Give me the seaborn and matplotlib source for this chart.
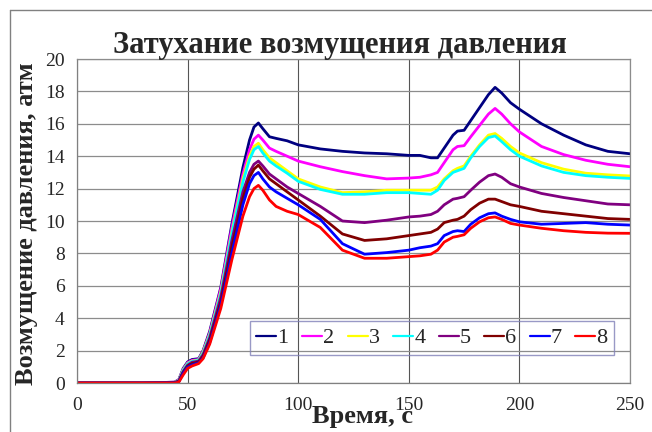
import numpy as np
import pandas as pd
import seaborn as sns
import matplotlib
matplotlib.use("Agg")
import matplotlib.pyplot as plt
from matplotlib.lines import Line2D

time = [0, 30, 44, 46, 48, 50, 52, 55, 57, 60, 65, 70, 75, 78, 80, 82, 84, 87, 90, 95, 100,
        110, 120, 130, 140, 150, 155, 160, 163, 166, 170, 172, 175, 178, 182, 186, 189, 192,
        196, 200, 210, 220, 230, 240, 250]

s1 = [0, 0, 0.05, 0.2, 0.9, 1.3, 1.45, 1.5, 2.0, 3.2, 5.9, 9.8, 13.3, 15.0, 15.8, 16.05, 15.7, 15.2, 15.1, 14.95, 14.7,
      14.45, 14.3, 14.2, 14.15, 14.05, 14.05, 13.9, 13.9, 14.5, 15.3, 15.55, 15.6, 16.2, 17.0, 17.8, 18.25, 17.9,
      17.3, 16.9, 16.0, 15.3, 14.7, 14.3, 14.15]
s2 = [0, 0, 0.05, 0.18, 0.85, 1.25, 1.4, 1.45, 1.95, 3.1, 5.8, 9.6, 12.9, 14.4, 15.05, 15.3, 15.0, 14.5, 14.3, 14.0, 13.7,
      13.35, 13.05, 12.8, 12.6, 12.65, 12.7, 12.85, 13.0, 13.6, 14.4, 14.6, 14.65, 15.2, 15.9, 16.6, 16.95, 16.6,
      16.0, 15.5, 14.6, 14.1, 13.75, 13.5, 13.35]
s3 = [0, 0, 0.04, 0.15, 0.8, 1.2, 1.35, 1.42, 1.9, 3.0, 5.6, 9.3, 12.6, 14.0, 14.6, 14.8, 14.4, 13.9, 13.6, 13.1, 12.6,
      12.1, 11.75, 11.8, 11.9, 11.9, 11.9, 11.9, 12.1, 12.6, 13.1, 13.25, 13.4, 14.0, 14.7, 15.3, 15.4, 15.1,
      14.6, 14.2, 13.6, 13.2, 12.95, 12.85, 12.78]
s4 = [0, 0, 0.04, 0.14, 0.78, 1.18, 1.33, 1.4, 1.85, 2.95, 5.5, 9.2, 12.4, 13.8, 14.4, 14.6, 14.2, 13.7, 13.4, 12.95, 12.45,
      11.95, 11.65, 11.65, 11.75, 11.75, 11.7, 11.65, 11.9, 12.5, 13.0, 13.1, 13.25, 13.9, 14.6, 15.15, 15.25, 14.9,
      14.4, 14.0, 13.4, 13.0, 12.8, 12.7, 12.63]
s5 = [0, 0, 0.03, 0.12, 0.7, 1.1, 1.28, 1.35, 1.75, 2.8, 5.3, 8.8, 11.8, 13.0, 13.5, 13.7, 13.4, 12.9, 12.6, 12.1, 11.7,
      10.9, 10.0, 9.9, 10.05, 10.25, 10.3, 10.4, 10.6, 11.0, 11.35, 11.4, 11.5, 11.9, 12.4, 12.8, 12.9, 12.7,
      12.3, 12.1, 11.7, 11.45, 11.25, 11.05, 11.0]
s6 = [0, 0, 0.02, 0.1, 0.65, 1.05, 1.2, 1.3, 1.65, 2.65, 5.0, 8.4, 11.4, 12.7, 13.2, 13.45, 13.1, 12.6, 12.3, 11.8, 11.3,
      10.3, 9.2, 8.8, 8.9, 9.1, 9.2, 9.3, 9.5, 9.9, 10.05, 10.1, 10.3, 10.7, 11.1, 11.35, 11.35, 11.2,
      11.0, 10.9, 10.6, 10.45, 10.3, 10.15, 10.1]
s7 = [0, 0, 0.01, 0.07, 0.6, 0.98, 1.12, 1.25, 1.55, 2.5, 4.8, 8.0, 11.0, 12.3, 12.8, 13.0, 12.6, 12.1, 11.8, 11.4, 11.0,
      10.1, 8.6, 7.95, 8.05, 8.2, 8.35, 8.45, 8.6, 9.1, 9.35, 9.4, 9.35, 9.8, 10.2, 10.45, 10.5, 10.3,
      10.1, 9.95, 9.8, 9.85, 9.9, 9.8, 9.75]
s8 = [0, 0, 0.0, 0.05, 0.5, 0.9, 1.05, 1.2, 1.5, 2.4, 4.6, 7.6, 10.3, 11.5, 12.0, 12.2, 11.9, 11.3, 10.9, 10.6, 10.4,
      9.6, 8.2, 7.7, 7.7, 7.8, 7.85, 7.95, 8.2, 8.7, 9.0, 9.05, 9.15, 9.55, 9.95, 10.2, 10.25, 10.1,
      9.85, 9.75, 9.55, 9.4, 9.3, 9.25, 9.24]

series_names = ["1", "2", "3", "4", "5", "6", "7", "8"]
series_values = [s1, s2, s3, s4, s5, s6, s7, s8]
colors = ["#000080", "#FF00FF", "#FFFF00", "#00FFFF", "#800080", "#800000", "#0000FF", "#FF0000"]

title = "Затухание возмущения давления"
xlabel = "Время, с"
ylabel = "Возмущение давления, атм"
xticks = [0, 50, 100, 150, 200, 250]
yticks = [0, 2, 4, 6, 8, 10, 12, 14, 16, 18, 20]

df = pd.concat([pd.DataFrame({"t": time, "v": vals, "s": name})
                for name, vals in zip(series_names, series_values)], ignore_index=True)

sns.set_style("white")
plt.rcParams["font.family"] = ["Liberation Serif", "DejaVu Serif"]

fig = plt.figure(figsize=(6.52, 4.32), dpi=100)
ax = fig.add_axes([77 / 652, 49 / 432, 553 / 652, 324 / 432])

sns.lineplot(data=df, x="t", y="v", hue="s", palette=colors, hue_order=series_names,
             linewidth=2.0, ax=ax, legend=False, estimator=None, sort=False)

ax.set_xlim(0, 250)
ax.set_ylim(0, 20)
ax.set_xticks(xticks)
ax.set_yticks(yticks)
ax.set_xticklabels([str(x) for x in xticks], fontsize=14)
ax.set_yticklabels([str(y) for y in yticks], fontsize=14)
ax.grid(axis="y", color="#8c8c8c", linewidth=0.9)
ax.grid(axis="x", color="#555555", linewidth=0.8)
ax.set_axisbelow(True)
for side in ["top", "right"]:
    ax.spines[side].set_color("#8c8c8c")
    ax.spines[side].set_linewidth(0.9)
for side in ["left", "bottom"]:
    ax.spines[side].set_color("#808080")
    ax.spines[side].set_linewidth(0.9)
ax.tick_params(axis="both", direction="out", length=4, color="#808080")
ax.tick_params(axis="y", pad=5)
ax.tick_params(axis="x", pad=6)

ax.set_xlabel("")
ax.set_ylabel("")
fig.text(362 / 652, 1 - 416 / 432, xlabel, ha="center", va="center", fontsize=19, fontweight="bold")
fig.text(27 / 652, 1 - 224 / 432, ylabel, ha="center", va="center", rotation=90, fontsize=19, fontweight="bold")
fig.text(340 / 652, 1 - 45 / 432, title, ha="center", va="center", fontsize=22, fontweight="bold")

handles = [Line2D([0], [0], color=c, linewidth=1.6) for c in colors]
leg = ax.legend(handles, series_names, loc="center", bbox_to_anchor=(432 / 652, 1 - 338 / 432),
                bbox_transform=fig.transFigure, ncol=8, frameon=True, fancybox=False,
                handlelength=0.9, handletextpad=0.05, columnspacing=0.6, fontsize=16,
                borderpad=0.3, borderaxespad=0)
leg.get_frame().set_facecolor("none")
leg.get_frame().set_edgecolor("#8080b8")
leg.get_frame().set_linewidth(1.0)

fig.add_artist(Line2D([10 / 652, 1.0], [1 - 10 / 432, 1 - 10 / 432], transform=fig.transFigure,
                      color="#808080", linewidth=1.0))
fig.add_artist(Line2D([10 / 652, 10 / 652], [0.0, 1 - 10 / 432], transform=fig.transFigure,
                      color="#808080", linewidth=1.0))

fig.savefig("out.png", dpi=100, facecolor="white")
